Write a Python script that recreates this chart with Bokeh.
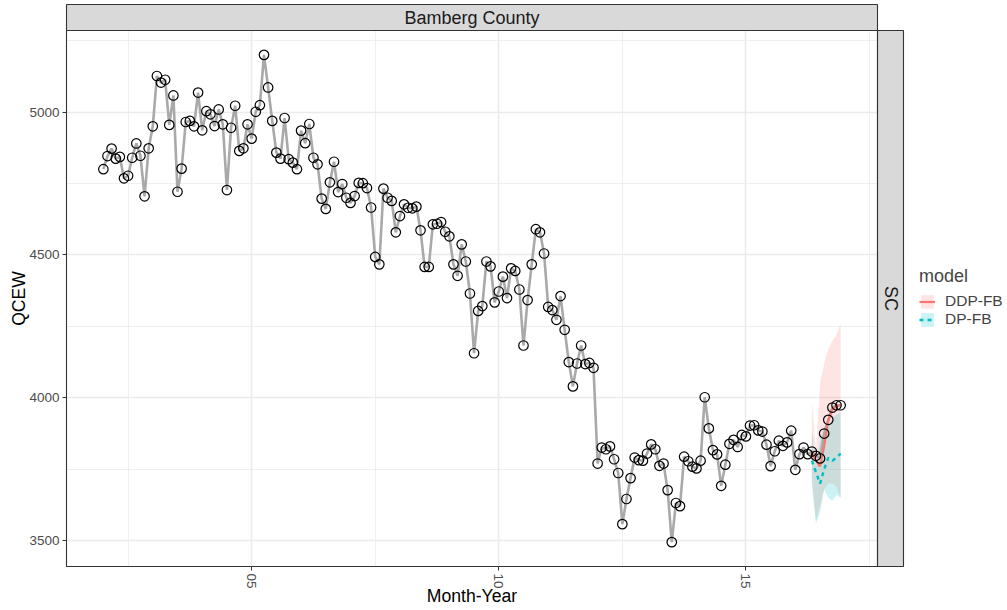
import math
from bokeh.plotting import figure
from bokeh.models import Range1d, FixedTicker, Label, Legend, LegendItem
from bokeh.embed import file_html
from bokeh.resources import INLINE

# ---------------- data ----------------
county = "Bamberg County"
state = "SC"
start_year = 2002
qcew = [
    4800, 4846, 4872, 4837, 4843, 4768, 4777, 4840, 4890, 4847, 4705, 4873,
    4950, 5126, 5103, 5113, 4955, 5058, 4721, 4802, 4965, 4969, 4950, 5068,
    4936, 5003, 4992, 4951, 5009, 4957, 4727, 4945, 5022, 4864, 4873, 4957,
    4907, 5001, 5024, 5200, 5086, 4969, 4858, 4837, 4979, 4835, 4823, 4800,
    4935, 4891, 4958, 4840, 4817, 4697, 4661, 4754, 4826, 4720, 4748, 4700,
    4682, 4706, 4752, 4751, 4734, 4666, 4493, 4467, 4732, 4700, 4689, 4579,
    4636, 4677, 4665, 4663, 4669, 4586, 4458, 4458, 4607, 4609, 4615, 4581,
    4565, 4467, 4427, 4537, 4477, 4365, 4156, 4304, 4321, 4477, 4460, 4334,
    4372, 4424, 4349, 4453, 4444, 4379, 4183, 4342, 4467, 4590, 4579, 4505,
    4318, 4307, 4273, 4356, 4238, 4125, 4040, 4120, 4183, 4118, 4122, 4105,
    3770, 3826, 3820, 3830, 3785, 3737, 3558, 3646, 3719, 3791, 3782, 3780,
    3805, 3837, 3820, 3762, 3770, 3677, 3495, 3632, 3621, 3794, 3778, 3759,
    3753, 3780, 4002, 3893, 3817, 3802, 3692, 3766, 3839, 3853, 3828, 3870,
    3865, 3903, 3904, 3886, 3882, 3836, 3761, 3813, 3850, 3832, 3844, 3885,
    3748, 3803, 3826, 3803, 3812, 3797, 3788, 3875, 3923, 3966, 3974, 3974,
]
months = [start_year + i / 12 for i in range(len(qcew))]

forecast_start = 172  # May 2016
forecast_months = months[forecast_start:]
ddp_fb_mean = [3812, 3780, 3760, 3830, 3920, 3960, 3970, 3975]
ddp_fb_lower = [3720, 3570, 3620, 3680, 3700, 3700, 3690, 3650]
ddp_fb_upper = [3990, 3810, 4050, 4120, 4170, 4200, 4220, 4260]
dp_fb_mean = [3780, 3740, 3700, 3750, 3790, 3780, 3790, 3805]
dp_fb_lower = [3700, 3560, 3600, 3680, 3650, 3640, 3660, 3650]
dp_fb_upper = [3890, 3760, 3850, 3900, 3900, 3930, 3940, 3950]
models = ["DDP-FB", "DP-FB"]

x_tick_values = [2005, 2010, 2015]
x_tick_labels = ["05", "10", "15"]
x_minor_values = [2002.5, 2007.5, 2012.5, 2017.5]
y_tick_values = [3500, 4000, 4500, 5000]
y_minor_values = [3750, 4250, 4750, 5250]

# ---------------- geometry (pixels) ----------------
W, H = 1007, 610
PANEL_L, PANEL_R, PANEL_T, PANEL_B = 66, 877, 30, 566
STRIP_TOP = 4
STRIP_R = 903

xlo, xhi = min(months), max(months)
xpad = 0.05 * (xhi - xlo)
x0, x1 = xlo - xpad, xhi + xpad
kx = (PANEL_R - PANEL_L) / (x1 - x0)


def X(px):
    return x0 + (px - PANEL_L) / kx


all_y = qcew + ddp_fb_lower + ddp_fb_upper + dp_fb_lower + dp_fb_upper
ylo, yhi = min(all_y), max(all_y)
ypad = 0.05 * (yhi - ylo)
y0, y1 = ylo - ypad, yhi + ypad
ky = (PANEL_B - PANEL_T) / (y1 - y0)


def Y(py):
    return y0 + (PANEL_B - py) / ky


FONT = "Liberation Sans"
RED = "#F8766D"
CYAN = "#00BFC4"

p = figure(width=W, height=H,
           x_range=Range1d(X(0), X(W)),
           y_range=Range1d(Y(H), Y(0)),
           output_backend="svg", toolbar_location=None, title=None,
           min_border=0, min_border_left=0, min_border_right=0,
           min_border_top=0, min_border_bottom=0)
p.outline_line_color = None
p.background_fill_color = "white"
p.border_fill_color = "white"

xt = FixedTicker(ticks=x_tick_values, minor_ticks=x_minor_values)
yt = FixedTicker(ticks=y_tick_values, minor_ticks=y_minor_values)
p.xaxis.ticker = xt
p.xgrid.ticker = xt
p.yaxis.ticker = yt
p.ygrid.ticker = yt
p.xaxis.fixed_location = Y(PANEL_B)
p.yaxis.fixed_location = X(PANEL_L)
p.xaxis.major_label_overrides = dict(zip(x_tick_values, x_tick_labels))

for g in (p.xgrid, p.ygrid):
    g.grid_line_color = "#EBEBEB"
    g.grid_line_width = 1.6
    g.minor_grid_line_color = "#EBEBEB"
    g.minor_grid_line_width = 0.8

for ax in (p.xaxis, p.yaxis):
    ax.axis_line_color = None
    ax.major_tick_line_color = "#333333"
    ax.major_tick_line_width = 1
    ax.major_tick_out = 4
    ax.major_tick_in = 0
    ax.minor_tick_line_color = None
    ax.major_label_text_font = FONT
    ax.major_label_text_font_size = "13.5px"
    ax.major_label_text_color = "#4D4D4D"
    ax.major_label_standoff = 3
p.xaxis.major_label_orientation = -math.pi / 2

# white surroundings (hide grid outside the panel)
p.quad(left=[X(0), X(0), X(0), X(STRIP_R), X(PANEL_R)],
       right=[X(PANEL_L), X(W), X(W), X(W), X(W)],
       top=[Y(0), Y(0), Y(PANEL_B), Y(0), Y(0)],
       bottom=[Y(H), Y(STRIP_TOP), Y(H), Y(H), Y(PANEL_T)],
       fill_color="white", line_color=None)
# strips
p.quad(left=X(PANEL_L), right=X(PANEL_R), top=Y(STRIP_TOP), bottom=Y(PANEL_T),
       fill_color="#D9D9D9", line_color="#333333", line_width=1.1)
p.quad(left=X(PANEL_R), right=X(STRIP_R), top=Y(PANEL_T), bottom=Y(PANEL_B),
       fill_color="#D9D9D9", line_color="#333333", line_width=1.1)

# ribbons and forecasts
r_ddp_band = p.varea(x=forecast_months, y1=ddp_fb_lower, y2=ddp_fb_upper,
                     fill_color=RED, fill_alpha=0.2)
r_dp_band = p.varea(x=forecast_months, y1=dp_fb_lower, y2=dp_fb_upper,
                    fill_color=CYAN, fill_alpha=0.2)

p.line(months, qcew, line_color="#A9A9A9", line_width=2.6)

r_ddp_line = p.line(forecast_months, ddp_fb_mean, line_color=RED, line_width=2.2)
r_dp_line = p.line(forecast_months, dp_fb_mean, line_color=CYAN, line_width=2.4,
                   line_dash="4 4")

p.scatter(months, qcew, marker="circle", size=9.5, line_color="black",
          line_width=1.2, fill_alpha=0)

# panel border
p.quad(left=X(PANEL_L), right=X(PANEL_R), top=Y(PANEL_T), bottom=Y(PANEL_B),
       fill_color=None, line_color="#333333", line_width=1.1)

# texts
p.add_layout(Label(x=X((PANEL_L + PANEL_R) / 2), y=Y(17), text=county,
                   text_align="center", text_baseline="middle",
                   text_font=FONT, text_font_size="18px", text_color="#1A1A1A"))
p.add_layout(Label(x=X((PANEL_R + STRIP_R) / 2), y=Y((PANEL_T + PANEL_B) / 2),
                   text=state, angle=-math.pi / 2,
                   text_align="center", text_baseline="middle",
                   text_font=FONT, text_font_size="18px", text_color="#1A1A1A"))
p.add_layout(Label(x=X(18.5), y=Y((PANEL_T + PANEL_B) / 2), text="QCEW",
                   angle=math.pi / 2, text_align="center", text_baseline="middle",
                   text_font=FONT, text_font_size="17.6px", text_color="black"))
p.add_layout(Label(x=X((PANEL_L + PANEL_R) / 2), y=Y(595), text="Month-Year",
                   text_align="center", text_baseline="middle",
                   text_font=FONT, text_font_size="17.6px", text_color="black"))

legend = Legend(items=[
    LegendItem(label=models[0], renderers=[r_ddp_band, r_ddp_line]),
    LegendItem(label=models[1], renderers=[r_dp_band, r_dp_line]),
], title="model", location=(919, 282))
legend.title_text_font = FONT
legend.title_text_font_size = "18px"
legend.title_text_font_style = "normal"
legend.title_standoff = 5
legend.label_text_font = FONT
legend.label_text_font_size = "15.5px"
legend.label_standoff = 10
legend.glyph_width = 16
legend.glyph_height = 17
legend.label_height = 16
legend.spacing = 0
legend.padding = 0
legend.margin = 0
legend.border_line_color = None
legend.background_fill_alpha = 0
p.add_layout(legend)

open("out.html", "w").write(file_html(p, INLINE))
